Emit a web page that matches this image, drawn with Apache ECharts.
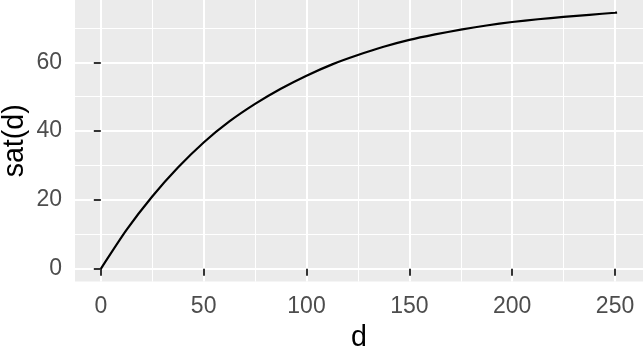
<!DOCTYPE html>
<html>
<head>
<meta charset="utf-8">
<script src="https://cdn.jsdelivr.net/npm/echarts@6/dist/echarts.min.js"></script>
<style>
  html, body { margin: 0; padding: 0; background: #ffffff; }
  #chart { width: 643px; height: 349px; }
</style>
</head>
<body>
<div id="chart"></div>
<script>
// Data
const dValues   = [0, 12.5, 25, 37.5, 50, 62.5, 75, 87.5, 100, 112.5, 125, 137.5, 150, 162.5, 175, 187.5, 200, 212.5, 225, 237.5, 250, 251];
const satValues = [0, 11.3, 21.0, 29.4, 36.7, 42.8, 47.9, 52.3, 56.1, 59.4, 62.1, 64.5, 66.5, 68.1, 69.5, 70.7, 71.7, 72.5, 73.2, 73.8, 74.4, 74.45];

const xMajorTicks = [0, 50, 100, 150, 200, 250];
const xMinorTicks = [25, 75, 125, 175, 225];
const yMajorTicks = [0, 20, 40, 60];
const yMinorTicks = [10, 30, 50, 70];

const xTitle = 'd';
const yTitle = 'sat(d)';

const xRange = [-12.55, 263.6];
const yRange = [-3.72, 78.1];

const FONT = "'Liberation Sans', Arial, Helvetica, sans-serif";

const seriesData = dValues.map((d, i) => [d, satValues[i]]);

const chart = echarts.init(document.getElementById('chart'), null, { renderer: 'canvas' });

chart.setOption({
  animation: false,
  backgroundColor: '#ffffff',
  grid: {
    left: 75, right: 0, top: 0, bottom: 67.4,
    containLabel: false,
    outerBoundsMode: 'none',
    show: true, backgroundColor: '#EBEBEB', borderWidth: 0
  },
  graphic: [
    {
      type: 'text', x: 359, y: 338.5,
      style: { text: xTitle, fill: '#000000', font: '28.6px ' + FONT, textAlign: 'center', textVerticalAlign: 'middle' }
    },
    {
      type: 'text', x: 15.5, y: 140.8, rotation: Math.PI / 2,
      style: { text: yTitle, fill: '#000000', font: '28.6px ' + FONT, textAlign: 'center', textVerticalAlign: 'middle' }
    }
  ],
  xAxis: [
    {
      type: 'value', min: xRange[0], max: xRange[1],
      position: 'bottom',
      axisLine: { show: false },
      axisTick: { show: true, customValues: xMajorTicks, length: 7, lineStyle: { color: '#333333', width: 2 } },
      axisLabel: { show: true, customValues: xMajorTicks, color: '#4D4D4D', fontSize: 23, fontFamily: FONT, margin: 14 },
      splitLine: { show: true, lineStyle: { color: '#ffffff', width: 2 } }
    },
    {
      type: 'value', min: xRange[0], max: xRange[1],
      position: 'top',
      axisLine: { show: false },
      axisTick: { show: false, customValues: xMinorTicks },
      axisLabel: { show: false, customValues: xMinorTicks },
      splitLine: { show: true, lineStyle: { color: '#ffffff', width: 1 } }
    }
  ],
  yAxis: [
    {
      type: 'value', min: yRange[0], max: yRange[1],
      position: 'left',
      axisLine: { show: false },
      axisTick: { show: true, customValues: yMajorTicks, length: 7, lineStyle: { color: '#333333', width: 2 } },
      axisLabel: { show: true, customValues: yMajorTicks, color: '#4D4D4D', fontSize: 23, fontFamily: FONT, margin: 13 },
      splitLine: { show: true, lineStyle: { color: '#ffffff', width: 2 } }
    },
    {
      type: 'value', min: yRange[0], max: yRange[1],
      position: 'right',
      axisLine: { show: false },
      axisTick: { show: false, customValues: yMinorTicks },
      axisLabel: { show: false, customValues: yMinorTicks },
      splitLine: { show: true, lineStyle: { color: '#ffffff', width: 1 } }
    }
  ],
  series: [
    {
      type: 'line',
      xAxisIndex: 0, yAxisIndex: 0,
      data: seriesData,
      showSymbol: false,
      smooth: 0.2,
      lineStyle: { color: '#000000', width: 2.2 },
      z: 5
    }
  ]
});
</script>
</body>
</html>
